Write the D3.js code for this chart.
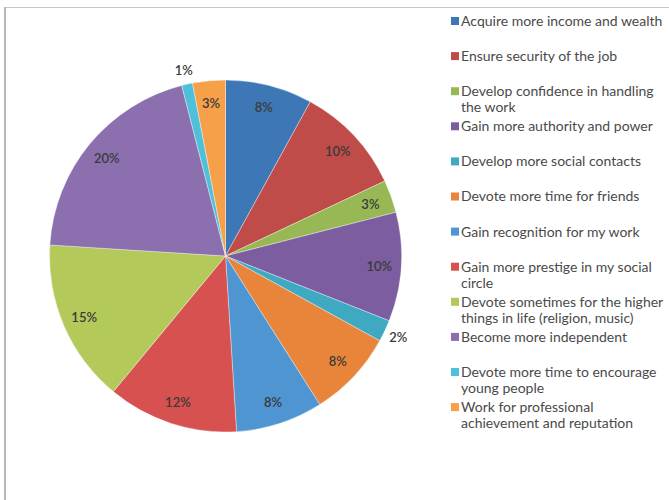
<!DOCTYPE html>
<html>
<head>
<meta charset="utf-8">
<script src="https://cdn.jsdelivr.net/npm/d3@7"></script>
<style>
  html, body { margin: 0; padding: 0; background: #ffffff; }
  svg { display: block; }
</style>
</head>
<body>
<svg id="chart" width="669" height="500"></svg>
<script>
// Aspirations of respondents, share of answers (%)
const categories = [
  "Acquire more income and wealth",
  "Ensure security of the job",
  "Develop confidence in handling the work",
  "Gain more authority and power",
  "Develop more social contacts",
  "Devote more time for friends",
  "Gain recognition for my work",
  "Gain more prestige in my social circle",
  "Devote sometimes for the higher things in life (religion, music)",
  "Become more independent",
  "Devote more time to encourage young people",
  "Work for professional achievement and reputation"
];
const values = [8, 10, 3, 10, 2, 8, 8, 12, 15, 20, 1, 3];
// Legend text broken into the lines it is shown on
const legendLines = [
  ["Acquire more income and wealth"],
  ["Ensure security of the job"],
  ["Develop confidence in handling", "the work"],
  ["Gain more authority and power"],
  ["Develop more social contacts"],
  ["Devote more time for friends"],
  ["Gain recognition for my work"],
  ["Gain more prestige in my social", "circle"],
  ["Devote sometimes for the higher", "things in life (religion, music)"],
  ["Become more independent"],
  ["Devote more time to encourage", "young people"],
  ["Work for professional", "achievement and reputation"]
];
const colors = [
  "#3d77b6", "#c04c4a", "#97b854", "#7c5ea0", "#40a9c2", "#e8853b",
  "#4f95d2", "#d6514f", "#b3c95a", "#8b6fae", "#4fc0da", "#f6a04a"
];

const svg = d3.select("#chart");
const font = "Lato, 'Open Sans', sans-serif";

// chart frame
svg.append("line").attr("x1", 5).attr("x2", 669).attr("y1", 7.5).attr("y2", 7.5)
  .attr("stroke", "#c8c8c8").attr("stroke-width", 1);
svg.append("line").attr("x1", 5).attr("x2", 5).attr("y1", 7).attr("y2", 500)
  .attr("stroke", "#b8b8b8").attr("stroke-width", 2);

const cx = 225.5, cy = 256, r = 176;
const g = svg.append("g").attr("transform", `translate(${cx},${cy})`);

const pie = d3.pie().sort(null).value(d => d)(values);
const arc = d3.arc().innerRadius(0).outerRadius(r);

g.selectAll("path.slice")
  .data(pie)
  .join("path")
  .attr("class", "slice")
  .attr("d", arc)
  .attr("fill", (d, i) => colors[i])
  .attr("stroke", "rgba(255,255,255,0.45)")
  .attr("stroke-width", 0.8);

// data labels: small slices outside the rim, the rest inside
const inner = d3.arc().innerRadius(154).outerRadius(154);
const outer = d3.arc().innerRadius(191).outerRadius(191);
g.selectAll("text.lbl")
  .data(pie)
  .join("text")
  .attr("class", "lbl")
  .attr("transform", d => {
    const p = (d.data <= 2 ? outer : inner).centroid(d);
    return `translate(${p[0]},${p[1]})`;
  })
  .attr("text-anchor", "middle")
  .attr("dominant-baseline", "central")
  .attr("font-family", font)
  .attr("font-size", 13)
  .attr("font-weight", 600)
  .attr("fill", "#3a3a3a")
  .text(d => d.data + "%");

// legend
const legendTop = 21, legendStep = 35.1, lineH = 16;
const legend = svg.append("g");
const items = legend.selectAll("g.item")
  .data(categories)
  .join("g")
  .attr("class", "item")
  .attr("transform", (d, i) => `translate(451,${legendTop + i * legendStep})`);

items.append("rect")
  .attr("x", 0).attr("y", -4).attr("width", 8).attr("height", 8)
  .attr("fill", (d, i) => colors[i]);

items.each(function(d, i) {
  const t = d3.select(this).append("text")
    .attr("font-family", font)
    .attr("font-size", 14)
    .attr("fill", "#4a4a4a");
  legendLines[i].forEach((line, k) => {
    t.append("tspan")
      .attr("x", 10)
      .attr("y", k * lineH)
      .attr("dy", "0.35em")
      .text(line);
  });
});
</script>
</body>
</html>
